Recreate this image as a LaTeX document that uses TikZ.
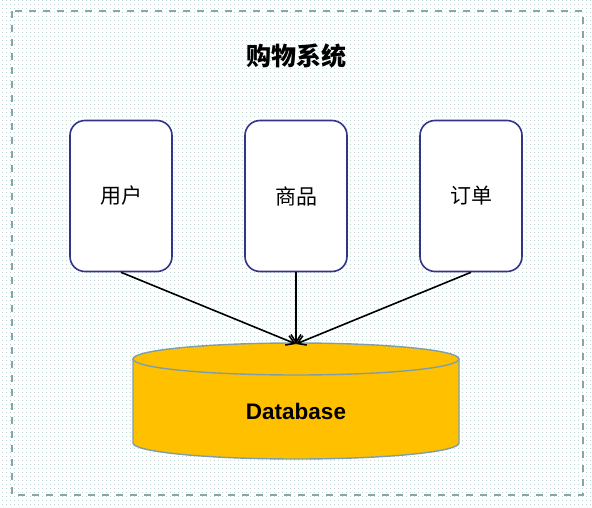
\documentclass[tikz,border=0pt]{standalone}
\usepackage{fontspec}
\setmainfont{Liberation Sans}
\newfontfamily\cjk{Noto Sans CJK SC}
\usetikzlibrary{arrows.meta, patterns.meta}
\definecolor{framegray}{HTML}{8AA5A5}
\definecolor{dotcol}{HTML}{A9C8C8}
\definecolor{boxblue}{HTML}{333388}
\definecolor{dbyellow}{HTML}{FFC000}
\definecolor{dbedge}{HTML}{7F9FA8}
\tikzset{
  modulo/.style={draw=boxblue, line width=1.6pt, fill=white, rounded corners=15pt,
    minimum width=102pt, minimum height=151pt, font=\cjk\fontsize{21}{21}\selectfont},
  freccia/.style={line width=1.6pt, -{Straight Barb[length=8pt,width=10pt]}}
}
\begin{document}
\begin{tikzpicture}[x=1pt,y=1pt]
\useasboundingbox (0,0) rectangle (592,-508);
% sfondo a puntini
\fill[white] (0,0) rectangle (592,-508);
\fill[pattern={Dots[distance=4pt,radius=0.6pt]}, pattern color=dotcol] (0,0) rectangle (592,-508);
% cornice tratteggiata
\draw[framegray, line width=1.5pt, dash pattern=on 7pt off 7pt] (12,-11) rectangle (583,-495);
% titolo
\node (titolo) at (296,-56) {\cjk\bfseries\fontsize{25}{25}\selectfont 购物系统};
% moduli
\node[modulo] (utente) at (121,-196) {用户};
\node[modulo] (prodotto) at (296,-196) {商品};
\node[modulo] (ordine) at (471,-196) {订单};
% database, cilindro
\fill[dbyellow] (133,-359) -- (133,-443) arc[start angle=180, end angle=360, x radius=163pt, y radius=16pt]
  -- (459,-359) arc[start angle=0, end angle=180, x radius=163pt, y radius=16pt] -- cycle;
\draw[dbedge, line width=1.4pt] (133,-359) -- (133,-443) arc[start angle=180, end angle=360, x radius=163pt, y radius=16pt]
  -- (459,-359);
\draw[dbedge, line width=1.4pt] (296,-359) ellipse[x radius=163pt, y radius=16pt];
\coordinate (dbtop) at (296,-344);
\node (db) at (296,-411) {\bfseries\fontsize{22.5}{22.5}\selectfont Database};
% frecce verso il database
\draw[freccia] (utente.south) -- (dbtop);
\draw[freccia] (prodotto.south) -- (dbtop);
\draw[freccia] (ordine.south) -- (dbtop);
\end{tikzpicture}
\end{document}
